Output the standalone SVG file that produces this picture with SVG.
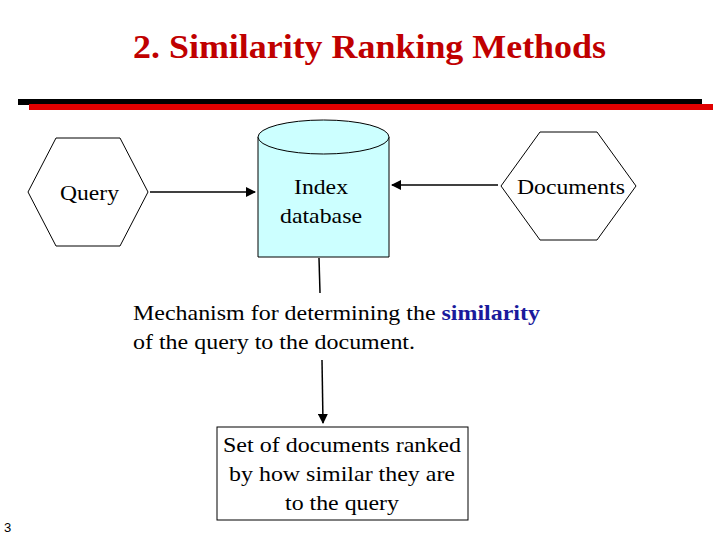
<svg xmlns="http://www.w3.org/2000/svg" width="720" height="540" viewBox="0 0 720 540">
<defs>
<style>
text{font-family:"Liberation Serif",serif;fill:#000}
.n{font-size:21px}
.ln{stroke:#000;stroke-width:1.5;fill:none}
</style>
<marker id="ah" markerWidth="10" markerHeight="10" refX="9" refY="5" orient="auto" markerUnits="userSpaceOnUse"><path d="M0,0L10,5L0,10z" fill="#000"/></marker>
</defs>
<rect width="720" height="540" fill="#fff"/>
<text x="133" y="58" textLength="473" lengthAdjust="spacingAndGlyphs" style="font-size:33px;font-weight:bold;fill:#c00000">2. Similarity Ranking Methods</text>
<rect x="18" y="99" width="684" height="6" fill="#000"/>
<rect x="29" y="104" width="684" height="6" fill="#e00000"/>
<g id="query"><polygon points="28,192 56,138 120,138 148,192 120,246 56,246" fill="#fff" stroke="#000"/><text class="n" x="60" y="200" textLength="59" lengthAdjust="spacingAndGlyphs">Query</text></g>
<g id="index"><path d="M258,137 L258,257 L389,257 L389,137" fill="#ccffff" stroke="#000"/><ellipse cx="323.5" cy="137" rx="65.5" ry="17" fill="#ccffff" stroke="#000"/><text class="n" x="294" y="194" textLength="54" lengthAdjust="spacingAndGlyphs">Index</text><text class="n" x="280" y="223" textLength="82" lengthAdjust="spacingAndGlyphs">database</text></g>
<g id="documents"><polygon points="501,186 540,132 597,132 636,186 597,240 540,240" fill="#fff" stroke="#000"/><text class="n" x="517" y="194" textLength="108" lengthAdjust="spacingAndGlyphs">Documents</text></g>
<g id="mech"><text class="n" x="133" y="320" textLength="407" lengthAdjust="spacingAndGlyphs">Mechanism for determining the <tspan style="fill:#1a1a9c;font-weight:bold">similarity</tspan></text><text class="n" x="133" y="349" textLength="282" lengthAdjust="spacingAndGlyphs">of the query to the document.</text></g>
<g id="result"><rect x="217" y="427" width="251" height="93" fill="#fff" stroke="#000"/><text class="n" x="223" y="452" textLength="238" lengthAdjust="spacingAndGlyphs">Set of documents ranked</text><text class="n" x="229" y="481" textLength="226" lengthAdjust="spacingAndGlyphs">by how similar they are</text><text class="n" x="285" y="510" textLength="114" lengthAdjust="spacingAndGlyphs">to the query</text></g>
<g id="connectors">
<line class="ln" x1="150" y1="192" x2="255" y2="192" marker-end="url(#ah)"/>
<line class="ln" x1="498" y1="185" x2="392" y2="185" marker-end="url(#ah)"/>
<line class="ln" x1="319" y1="258" x2="320" y2="293"/>
<line class="ln" x1="322" y1="360" x2="323" y2="423" marker-end="url(#ah)"/>
</g>
<text x="4" y="532" style="font-family:'Liberation Sans',sans-serif;font-size:13px">3</text>
</svg>
